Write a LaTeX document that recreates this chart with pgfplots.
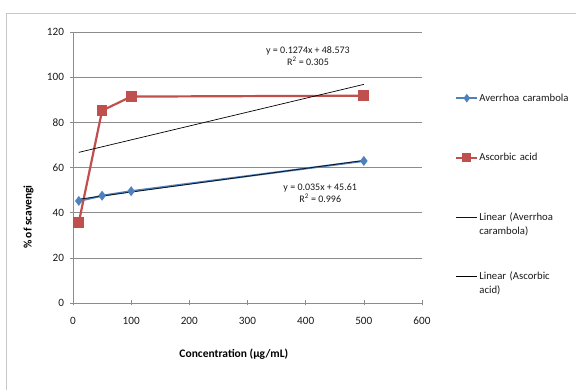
\documentclass[border=0pt]{standalone}
\usepackage{pgfplots}
\pgfplotsset{compat=1.18}
\usepackage{fontspec}
\setmainfont{Carlito}
\definecolor{acblue}{HTML}{4F81BD}
\definecolor{acred}{HTML}{C0504D}
\definecolor{gridgray}{HTML}{8C8C8C}
\begin{document}
\begin{tikzpicture}[x=1pt,y=1pt]
\useasboundingbox (0,0) rectangle (576,390);
\draw[black!22, line width=0.8pt] (6,-10) rectangle (590,377);
\begin{axis}[
  at={(73pt,87pt)}, anchor=south west,
  scale only axis, width=349pt, height=271pt,
  xmin=0, xmax=600, ymin=0, ymax=120,
  xtick={0,100,...,600}, ytick={0,20,...,120},
  separate axis lines,
  axis x line*=bottom, axis y line*=left,
  axis line style={gridgray, line width=0.6pt},
  ymajorgrids, grid style={gridgray, line width=0.6pt},
  tick style={gridgray, line width=0.6pt},
  tick align=center, major tick length=5pt,
  /pgf/number format/assume math mode=true,
  ticklabel style={font=\fontsize{11.2}{13}\selectfont, text=black!90},
  xticklabel style={yshift=-8pt},
  yticklabel style={xshift=-3pt},
  xlabel={\textbf{Concentration (µg/mL)}},
  xlabel style={at={(axis description cs:0.461,-0.188)}, anchor=center, font=\fontsize{11.5}{13}\selectfont},
  ylabel={\textbf{\% of scavengi}},
  ylabel style={at={(axis description cs:-0.127,0.317)}, anchor=center, font=\fontsize{11.5}{13}\selectfont},
  legend style={at={(axis description cs:1.0946,0.775)}, anchor=north west,
    draw=none, fill=none, inner sep=0pt, row sep=0pt,
    cells={anchor=base west},
    nodes={font=\fontsize{10.7}{14}\selectfont, text width=95pt, align=left,
           text height=7pt, text depth=50.5pt, inner sep=1pt, text=black!90}},
  legend image code/.code={%
    \draw[mark repeat=2, mark phase=2, #1, every mark/.append style={scale=0.8}] plot coordinates {(0pt,3pt) (10.5pt,3pt) (21pt,3pt)};},
]
\addplot[acblue, line width=2pt, mark=diamond*, mark size=3.4pt, mark options={solid, fill=acblue, draw=acblue}]
  coordinates {(10,45.2) (50,47.5) (100,49.5) (500,62.9)};
\addlegendentry{Averrhoa carambola}
\addplot[acred, line width=2.2pt, mark=square*, mark size=4.3pt, mark options={solid, fill=acred, draw=acred}]
  coordinates {(10,35.7) (50,85.2) (100,91.4) (500,91.8)};
\addlegendentry{Ascorbic acid}
\addplot[black!85!acblue, line width=0.8pt, mark=none]
  coordinates {(10,45.96) (500,63.11)};
\addlegendentry{Linear (Averrhoa\\carambola)}
\addplot[black, line width=0.7pt, mark=none]
  coordinates {(10,66.7) (500,96.8)};
\addlegendentry{Linear (Ascorbic\\acid)}
\node[font=\fontsize{10}{11}\selectfont, align=center, text=black!90] at (axis cs:404,109.4)
  {y = 0.1274x + 48.573\\[1pt] R\textsuperscript{2} = 0.305};
\node[font=\fontsize{10}{11}\selectfont, align=center, text=black!90] at (axis cs:425,48.7)
  {y = 0.035x + 45.61\\[1pt] R\textsuperscript{2} = 0.996};
\end{axis}
\end{tikzpicture}
\end{document}
